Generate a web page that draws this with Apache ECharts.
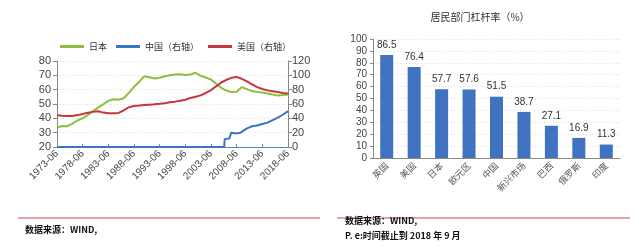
<!DOCTYPE html>
<html>
<head>
<meta charset="utf-8">
<script src="https://cdn.jsdelivr.net/npm/echarts@6/dist/echarts.min.js"></script>
<style>
html,body{margin:0;padding:0;background:#fff;}
#left{position:absolute;left:0;top:0;width:320px;height:249px;}
#right{position:absolute;left:320px;top:0;width:320px;height:249px;}
</style>
</head>
<body>
<div id="left"></div>
<div id="right"></div>
<script>
// ---- Left chart data ----
const yearDates = ["1973-06","1974-06","1975-06","1976-06","1977-06","1978-06","1979-06","1980-06","1981-06","1982-06",
"1983-06","1984-06","1985-06","1986-06","1987-06","1988-06","1989-06","1990-06","1991-06","1992-06",
"1993-06","1994-06","1995-06","1996-06","1997-06","1998-06","1999-06","2000-06","2001-06","2002-06",
"2003-06","2004-06","2005-06","2006-06","2007-06","2008-06","2009-06","2010-06","2011-06","2012-06",
"2013-06","2014-06","2015-06","2016-06","2017-06","2018-06"];
const japanValues = [33.5,34.7,34.5,36.3,38.5,40.2,42.3,45,47.5,49.8,
52.2,53.3,53,54,57.8,62,65.4,69.4,68.7,67.8,
68.3,69.4,70.1,70.5,70.8,70.2,70.6,71.8,69.7,68.5,
67,64.2,61.3,59.4,58.3,58.6,61.8,60.4,59,58.4,
58,57.3,56.6,56,56.3,56.7];
const usValues = [44.2,43.5,43.3,43.3,44.5,46,47.8,49,50,48,
47,47,47.5,51,55.5,57.2,57.8,58.5,59,59.5,
60.2,61,62.3,63.3,64.5,66,68.5,70,72,75.5,
79.5,84.5,90,93.8,96.5,97.8,95.2,91.5,87.5,83.5,
81,79,77.8,76.6,75.5,74.7];
const chinaDates = ["1973-06","2006-01","2006-02","2007-01","2007-05","2008-06","2009-03","2009-06","2010-06","2011-06",
"2012-06","2013-06","2014-06","2015-06","2016-06","2017-06","2018-06"];
const chinaValues = [0,0,11,12,20,19,20,22,26,29,30,32,34,37.5,41,45,50];

// ---- Right chart data ----
const barCategories = ["英国","美国","日本","欧元区","中国","新兴市场","巴西","俄罗斯","印度"];
const barValues = [86.5,76.4,57.7,57.6,51.5,38.7,27.1,16.9,11.3];

function monthIndex(d){const p=d.split("-");return (parseInt(p[0])-1973)*12+(parseInt(p[1])-6);}
function pairs(dates, vals){return dates.map((d,i)=>[monthIndex(d), vals[i]]);}

const FONT = "'Noto Sans CJK SC', 'Liberation Sans', sans-serif";
const GREEN = "#8CBF3F", BLUE = "#3B73C5", RED = "#C8353A";

const left = echarts.init(document.getElementById('left'));
left.setOption({
  animation:false,
  textStyle:{fontFamily:FONT},
  legend:{
    left:55, top:37, itemWidth:24, itemHeight:3, itemGap:9, icon:"rect",
    textStyle:{fontSize:9, color:"#333", fontFamily:FONT},
    data:["日本","中国（右轴）","美国（右轴）"]
  },
  grid:{left:57, right:32, top:61, bottom:102},
  xAxis:{
    type:"value", min:0, max:540, interval:60,
    axisLine:{lineStyle:{color:"#5B7FBF", width:1}},
    axisTick:{inside:true, length:3, lineStyle:{color:"#888"}},
    splitLine:{show:false},
    axisLabel:{rotate:45, fontSize:10, color:"#444", margin:5, fontFamily:"'Liberation Sans', sans-serif",
      formatter:v=>(1973+Math.round(v/12))+"-06"}
  },
  yAxis:[
    {type:"value", min:20, max:80, interval:10, position:"left",
     axisLine:{show:true, lineStyle:{color:"#888"}},
     axisTick:{show:true, length:4, lineStyle:{color:"#888"}},
     axisLabel:{fontSize:11, color:"#444", margin:6, fontFamily:"'Liberation Sans', sans-serif"},
     splitLine:{show:true, lineStyle:{color:"#dcdcdc", type:[1,2]}}},
    {type:"value", min:0, max:120, interval:20, position:"right",
     axisLine:{show:true, lineStyle:{color:"#888"}},
     axisTick:{show:true, length:4, lineStyle:{color:"#888"}},
     axisLabel:{fontSize:11, color:"#444", margin:4, fontFamily:"'Liberation Sans', sans-serif"},
     splitLine:{show:false}}
  ],
  series:[
    {name:"日本", type:"line", yAxisIndex:0, data:pairs(yearDates, japanValues), showSymbol:false, symbol:"none",
     lineStyle:{color:GREEN, width:2}, itemStyle:{color:GREEN}},
    {name:"中国（右轴）", type:"line", yAxisIndex:1, data:pairs(chinaDates, chinaValues), showSymbol:false, symbol:"none",
     lineStyle:{color:BLUE, width:2}, itemStyle:{color:BLUE}},
    {name:"美国（右轴）", type:"line", yAxisIndex:1, data:pairs(yearDates, usValues), showSymbol:false, symbol:"none",
     lineStyle:{color:RED, width:2}, itemStyle:{color:RED}}
  ],
  graphic:[
    {type:"line", shape:{x1:18, y1:218, x2:320, y2:218}, style:{stroke:"#C0504D", lineWidth:1}},
    {type:"text", left:25, top:225, style:{text:"数据来源：WIND,", fontSize:9, fontWeight:"bold", fill:"#111", fontFamily:FONT}}
  ]
});

const right = echarts.init(document.getElementById('right'));
right.setOption({
  animation:false,
  textStyle:{fontFamily:FONT},
  title:{text:"居民部门杠杆率（%）", left:"center", top:7,
    textStyle:{fontSize:10, fontWeight:"normal", color:"#333", fontFamily:FONT}},
  grid:{left:53, right:20, top:39, bottom:91},
  xAxis:{
    type:"category", data:barCategories,
    axisLine:{lineStyle:{color:"#888"}},
    axisTick:{show:false},
    axisLabel:{rotate:45, fontSize:9, color:"#555", margin:6, interval:0, fontFamily:FONT}
  },
  yAxis:{
    type:"value", min:0, max:100, interval:10,
    axisLine:{show:true, lineStyle:{color:"#888"}},
    axisTick:{show:true, length:3, lineStyle:{color:"#888"}},
    axisLabel:{fontSize:10, color:"#444", margin:6, fontFamily:"'Liberation Sans', sans-serif"},
    splitLine:{show:true, lineStyle:{color:"#dcdcdc", type:[1,2]}}
  },
  series:[{
    type:"bar", data:barValues, barWidth:13,
    itemStyle:{color:"#3F72C0"},
    label:{show:true, position:"top", fontSize:10, color:"#333", distance:5, fontFamily:"'Liberation Sans', sans-serif",
      formatter:p=>p.value.toFixed(1)}
  }],
  graphic:[
    {type:"line", shape:{x1:17, y1:218, x2:310, y2:218}, style:{stroke:"#C0504D", lineWidth:1}},
    {type:"text", left:25, top:216, style:{text:"数据来源：WIND,", fontSize:9, fontWeight:"bold", fill:"#111", fontFamily:FONT}},
    {type:"text", left:25, top:231, style:{text:"P. e:时间截止到 2018 年 9 月", fontSize:9, fontWeight:"bold", fill:"#111", fontFamily:FONT}}
  ]
});
</script>
</body>
</html>
